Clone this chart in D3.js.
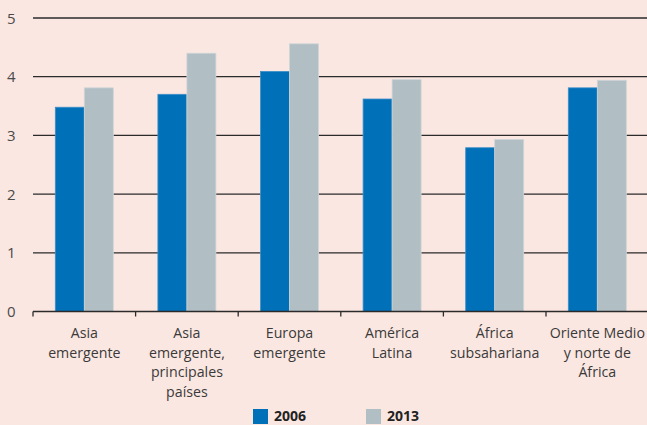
<!DOCTYPE html>
<html><head><meta charset="utf-8">
<script src="https://cdn.jsdelivr.net/npm/d3@7"></script>
<style>
html,body{margin:0;padding:0;background:#fbe7e1;}
svg{display:block;}
text{font-family:"Open Sans","Noto Sans",sans-serif;}
</style></head>
<body>
<svg id="c" width="647" height="425"></svg>
<script>
const categories = [
  ["Asia","emergente"],
  ["Asia","emergente,","principales","países"],
  ["Europa","emergente"],
  ["América","Latina"],
  ["África","subsahariana"],
  ["Oriente Medio","y norte de","África"]
];
const series2006 = [3.48, 3.70, 4.09, 3.62, 2.79, 3.81];
const series2013 = [3.81, 4.40, 4.56, 3.95, 2.93, 3.94];
const yTicks = [0, 1, 2, 3, 4, 5];
const seriesNames = ["2006", "2013"];
const colors = ["#0070b8", "#b1bec4"];

const svg = d3.select("#c");
const x = d3.scaleBand().domain(d3.range(categories.length)).range([33, 648.6]).paddingInner(0).paddingOuter(0);
const y = d3.scaleLinear().domain([0, 5]).range([311.5, 18]);

// gridlines
svg.append("g").selectAll("line").data(yTicks.filter(d => d > 0)).join("line")
  .attr("x1", 33).attr("x2", 647)
  .attr("y1", d => y(d)).attr("y2", d => y(d))
  .attr("stroke", "#2b2b2b").attr("stroke-width", 1.3);

// y labels
svg.append("g").selectAll("text").data(yTicks).join("text")
  .attr("x", 7).attr("y", d => y(d) + 5.5)
  .attr("font-size", 15).attr("fill", "#4a4a4a")
  .text(d => d);

const barW = 29;
const data = categories.map((c, i) => ({i, vals: [series2006[i], series2013[i]]}));
const g = svg.append("g");
data.forEach(d => {
  const cx = x(d.i) + x.bandwidth() / 2;
  d.vals.forEach((v, k) => {
    g.append("rect")
      .attr("x", cx - barW + k * barW)
      .attr("y", y(v))
      .attr("width", barW)
      .attr("height", y(0) - y(v))
      .attr("fill", colors[k])
      .attr("stroke", k === 0 ? "#3f8fc8" : "#cfd6d8")
      .attr("stroke-width", 0.8);
  });
});

// x axis baseline + ticks
svg.append("line").attr("x1", 33).attr("x2", 647).attr("y1", y(0)).attr("y2", y(0))
  .attr("stroke", "#2b2b2b").attr("stroke-width", 1.3);
svg.append("g").selectAll("line").data(d3.range(categories.length)).join("line")
  .attr("x1", d => x(d)).attr("x2", d => x(d))
  .attr("y1", y(0)).attr("y2", y(0) + 5)
  .attr("stroke", "#2b2b2b").attr("stroke-width", 1.3);

// category labels
const lab = svg.append("g");
categories.forEach((lines, i) => {
  const t = lab.append("text")
    .attr("x", x(i) + x.bandwidth() / 2)
    .attr("text-anchor", "middle")
    .attr("font-size", 14.2).attr("fill", "#3a3a3a");
  lines.forEach((ln, j) => {
    t.append("tspan").attr("x", x(i) + x.bandwidth() / 2).attr("y", 338 + j * 19.7).text(ln);
  });
});

// legend
const legX = [253, 366];
seriesNames.forEach((s, k) => {
  svg.append("rect").attr("x", legX[k]).attr("y", 409).attr("width", 15).attr("height", 15).attr("fill", colors[k]);
  svg.append("text").attr("x", legX[k] + 21).attr("y", 421)
    .attr("font-size", 14).attr("font-weight", "bold").attr("fill", "#222").text(s);
});
</script>
</body></html>
